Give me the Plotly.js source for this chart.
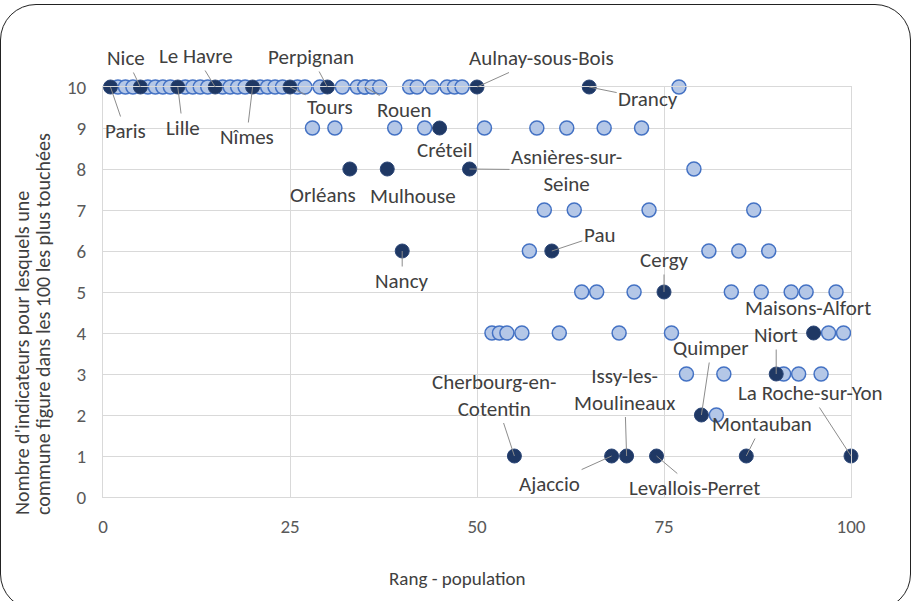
<!DOCTYPE html>
<html>
<head>
<meta charset="utf-8">
<script src="https://cdn.plot.ly/plotly-3.0.1.min.js"></script>
<style>
  body { margin: 0; background: #fff; }
  #wrap { position: relative; width: 912px; height: 601px; overflow: hidden; }
  #plot { position: absolute; left: 0; top: 0; width: 912px; height: 601px; }
  #cadre { position: absolute; left: 0; top: 4px; width: 909px; height: 604px;
           border: 1.3px solid #222; border-radius: 36px; pointer-events: none; }
</style>
</head>
<body>
<div id="wrap">
  <div id="plot"></div>
  <div id="cadre"></div>
</div>
<script>
// communes non nommées : rang de population et nombre d'indicateurs
const rangAutres = [2, 3, 4, 6, 7, 8, 9, 11, 12, 13, 14, 16, 17, 18, 19, 21, 22, 23, 24, 26, 27, 29, 32, 34, 35, 36, 37, 41, 42, 44, 46, 47, 48, 77,
                    28, 31, 39, 43, 51, 58, 62, 67, 72,
                    79,
                    59, 63, 73, 87,
                    57, 81, 85, 89,
                    64, 66, 71, 84, 88, 92, 94, 98,
                    52, 53, 54, 56, 61, 69, 76, 97, 99,
                    78, 83, 91, 93, 96,
                    82];
const nbAutres = [10, 10, 10, 10, 10, 10, 10, 10, 10, 10, 10, 10, 10, 10, 10, 10, 10, 10, 10, 10, 10, 10, 10, 10, 10, 10, 10, 10, 10, 10, 10, 10, 10, 10,
                  9, 9, 9, 9, 9, 9, 9, 9, 9,
                  8,
                  7, 7, 7, 7,
                  6, 6, 6, 6,
                  5, 5, 5, 5, 5, 5, 5, 5,
                  4, 4, 4, 4, 4, 4, 4, 4, 4,
                  3, 3, 3, 3, 3,
                  2];

// communes nommées
const villes = ['Paris', 'Nice', 'Lille', 'Le Havre', 'Nîmes', 'Tours', 'Perpignan', 'Rouen', 'Aulnay-sous-Bois', 'Drancy',
                'Créteil', 'Orléans', 'Mulhouse', 'Asnières-sur-<br>Seine', 'Nancy', 'Pau', 'Cergy', 'Maisons-Alfort', 'Niort',
                'Quimper', 'La Roche-sur-Yon', 'Cherbourg-en-<br>Cotentin', 'Issy-les-<br>Moulineaux', 'Montauban', 'Ajaccio', 'Levallois-Perret'];
const rangVilles = [1, 5, 10, 15, 20, 25, 30, 35, 50, 65, 45, 33, 38, 49, 40, 60, 75, 95, 90, 80, 100, 55, 70, 86, 68, 74];
const nbVilles = [10, 10, 10, 10, 10, 10, 10, 10, 10, 10, 9, 8, 8, 8, 6, 6, 5, 4, 3, 2, 1, 1, 1, 1, 1, 1];
const villesClaires = ['Rouen'];

// placement des étiquettes (décalage en pixels, flèche ou non)
const decalX = [15, -14, 5, -19, -6, 40, -16, 40, 64, 59, 5, -27, 26, 97, 0, 48, 0, -6, 0, 10, -41, -20, -2, 16, -62, 38];
const decalY = [44, -29, 41, -31, 50, 20, -30, 23, -29, 12, 22, 26, 27, 1, 30, -16, -32, -25, -39, -67, -63, -61, -67, -32, 28, 32];
const fleche = [1, 1, 1, 1, 1, 1, 1, 1, 1, 1, 0, 0, 0, 1, 1, 1, 1, 0, 1, 1, 1, 1, 1, 1, 1, 1];

const titreY = ["Nombre d'indicateurs pour lesquels une", 'commune figure dans les 100 les plus touchées'];
const titreX = 'Rang - population';

const police = 'Carlito, Lato, sans-serif';

const idxFonce = villes.map((v, i) => i).filter(i => !villesClaires.includes(villes[i]));
const idxClair = villes.map((v, i) => i).filter(i => villesClaires.includes(villes[i]));

const traceClair = {
  x: rangAutres.concat(idxClair.map(i => rangVilles[i])),
  y: nbAutres.concat(idxClair.map(i => nbVilles[i])),
  mode: 'markers', type: 'scatter', cliponaxis: false, hoverinfo: 'x+y',
  marker: { size: 14, color: '#b4c7e7', line: { color: '#4472c4', width: 1.5 } }
};
// tri par rang pour que les cercles se chevauchent comme dans l'original
const ordre = traceClair.x.map((v, i) => i).sort((a, b) => traceClair.x[a] - traceClair.x[b]);
traceClair.x = ordre.map(i => traceClair.x[i]);
traceClair.y = ordre.map(i => traceClair.y[i]);

const traceFonce = {
  x: idxFonce.map(i => rangVilles[i]),
  y: idxFonce.map(i => nbVilles[i]),
  text: idxFonce.map(i => villes[i]),
  mode: 'markers', type: 'scatter', cliponaxis: false, hoverinfo: 'text+x+y',
  marker: { size: 14, color: '#1f3864', line: { color: '#2b4677', width: 1 } }
};

const annotations = villes.map((v, i) => {
  const a = {
    x: rangVilles[i], y: nbVilles[i], text: v,
    font: { family: police, size: 21, color: '#404040' }
  };
  if (fleche[i]) {
    Object.assign(a, { showarrow: true, arrowhead: 0, arrowwidth: 1, arrowcolor: '#8c8c8c',
                       ax: decalX[i], ay: decalY[i], standoff: 0 });
  } else {
    Object.assign(a, { showarrow: false, xshift: decalX[i], yshift: -decalY[i] });
  }
  return a;
});

// titres des axes (le titre Y est aligné à gauche, sur deux lignes serrées)
titreY.forEach((t, k) => {
  annotations.push({
    xref: 'paper', yref: 'paper', x: 0, y: 0, xshift: -81 + 21 * k, yshift: -20,
    xanchor: 'center', yanchor: 'bottom', textangle: -90, showarrow: false,
    text: t, font: { family: police, size: 20, color: '#404040' }
  });
});
annotations.push({
  xref: 'paper', yref: 'paper', x: 0.5, y: 0, xshift: -20, yshift: -81,
  xanchor: 'center', yanchor: 'middle', showarrow: false,
  text: titreX, font: { family: police, size: 19, color: '#404040' }
});

const layout = {
  width: 912, height: 601,
  margin: { l: 103, r: 61, t: 87, b: 104 },
  paper_bgcolor: '#fff', plot_bgcolor: '#fff',
  showlegend: false,
  font: { family: police, color: '#595959' },
  xaxis: {
    range: [0, 100], tickvals: [0, 25, 50, 75, 100],
    showgrid: true, gridcolor: '#d9d9d9', gridwidth: 1,
    showline: true, linecolor: '#d9d9d9', mirror: true, zeroline: false,
    ticks: 'outside', ticklen: 12, tickcolor: 'rgba(0,0,0,0)',
    tickfont: { family: police, size: 19, color: '#595959' }
  },
  yaxis: {
    range: [0, 10], dtick: 1,
    showgrid: true, gridcolor: '#d9d9d9', gridwidth: 1,
    showline: true, linecolor: '#d9d9d9', mirror: true, zeroline: false,
    ticks: 'outside', ticklen: 12, tickcolor: 'rgba(0,0,0,0)',
    tickfont: { family: police, size: 19, color: '#595959' }
  },
  annotations: annotations
};

Plotly.newPlot('plot', [traceClair, traceFonce], layout, { displayModeBar: false, staticPlot: true });
</script>
</body>
</html>
